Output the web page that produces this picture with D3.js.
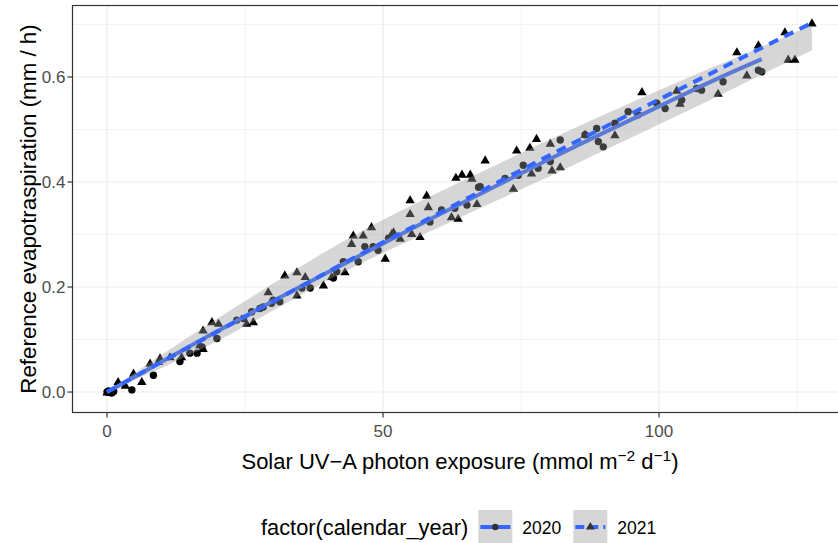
<!DOCTYPE html>
<html>
<head>
<meta charset="utf-8">
<script src="https://cdn.jsdelivr.net/npm/d3@7"></script>
<style>
  html, body { margin: 0; padding: 0; background: #ffffff; }
  svg { display: block; font-family: "Liberation Sans", Arial, Helvetica, sans-serif; }
</style>
</head>
<body>
<svg id="chart" width="838" height="543"></svg>
<script>
// Observations for 2020: UV-A exposure (mmol m-2 d-1) and reference ET (mm / h)
const uva2020 = [0.0, 0.3, 0.8, 1.2, 4.5, 8.4, 13.2, 15.0, 16.3, 17.2, 19.9, 23.5, 24.7, 26.2, 27.7, 28.3,
  29.8, 30.1, 31.3, 35.3, 36.8, 41.0, 41.6, 42.8, 45.5, 46.7, 48.2, 49.1, 51.0, 58.5, 60.6, 63.0,
  65.2, 67.3, 67.6, 72.1, 74.5, 75.4, 78.1, 80.3, 82.1, 86.6, 88.7, 89.0, 89.9, 92.0, 94.4, 96.2,
  99.6, 101.1, 104.1, 106.8, 107.7, 111.6, 118.0, 118.6];
const et2020 = [0.000, 0.002, -0.002, 0.001, 0.004, 0.032, 0.058, 0.074, 0.074, 0.086, 0.102, 0.137, 0.140, 0.153, 0.159, 0.162,
  0.169, 0.175, 0.172, 0.198, 0.198, 0.217, 0.229, 0.248, 0.248, 0.277, 0.277, 0.270, 0.293, 0.324, 0.347, 0.350,
  0.356, 0.390, 0.391, 0.407, 0.413, 0.432, 0.426, 0.439, 0.480, 0.490, 0.502, 0.477, 0.467, 0.512, 0.534, 0.528,
  0.550, 0.540, 0.556, 0.578, 0.575, 0.591, 0.613, 0.610];

// Observations for 2021
const uva2021 = [0.0, 0.6, 2.0, 3.3, 4.8, 6.3, 7.8, 9.3, 9.6, 11.4, 13.5, 16.8, 17.4, 17.4, 19.0, 20.2,
  25.3, 26.5, 29.2, 32.2, 34.4, 35.9, 34.4, 39.2, 40.7, 43.1, 44.3, 44.6, 46.4, 47.9, 50.4, 51.6,
  51.9, 53.1, 54.9, 54.9, 55.2, 56.7, 57.9, 58.2, 62.4, 63.6, 63.2, 64.3, 65.8, 66.1, 67.0, 68.5,
  73.6, 76.9, 80.6, 82.1, 74.2, 76.6, 77.8, 80.3, 86.6, 92.0, 96.9, 103.2, 103.8, 110.7, 114.1, 115.9,
  118.0, 122.8, 123.4, 124.6, 127.7];
const et2021 = [0.000, -0.001, 0.020, 0.013, 0.036, 0.020, 0.055, 0.058, 0.065, 0.067, 0.067, 0.090, 0.083, 0.118, 0.134, 0.131,
  0.131, 0.134, 0.191, 0.223, 0.229, 0.220, 0.185, 0.204, 0.220, 0.229, 0.283, 0.299, 0.299, 0.315, 0.255, 0.302,
  0.305, 0.293, 0.366, 0.340, 0.302, 0.296, 0.375, 0.353, 0.334, 0.331, 0.409, 0.415, 0.415, 0.407, 0.359, 0.442,
  0.388, 0.417, 0.423, 0.429, 0.461, 0.466, 0.483, 0.474, 0.491, 0.490, 0.572, 0.575, 0.550, 0.569, 0.648, 0.604,
  0.661, 0.686, 0.634, 0.634, 0.703];

// Smoothed fits per year
const fitUva2020 = [0, 10, 20, 30, 40, 50, 60, 70, 80, 90, 100, 110, 118.6];
const fitEt2020 = [0, 0.058, 0.116, 0.173, 0.228, 0.283, 0.337, 0.390, 0.443, 0.494, 0.544, 0.594, 0.634];
const fitUva2021 = [0, 10, 20, 30, 40, 50, 60, 70, 80, 90, 100, 110, 120, 127.7];
const fitEt2021 = [0, 0.058, 0.115, 0.172, 0.229, 0.285, 0.340, 0.395, 0.450, 0.504, 0.557, 0.610, 0.663, 0.703];

// Shaded band around the fits
const bandUva = [0, 10, 20, 30, 40, 50, 60, 70, 80, 90, 100, 110, 120, 127.7];
const bandLow = [0, 0.046, 0.097, 0.155, 0.213, 0.265, 0.313, 0.362, 0.410, 0.460, 0.510, 0.560, 0.612, 0.651];
const bandHigh = [0, 0.072, 0.140, 0.206, 0.270, 0.328, 0.380, 0.430, 0.480, 0.528, 0.575, 0.620, 0.664, 0.699];

// Axis ticks
const xMajor = [0, 50, 100];
const xMinor = [25, 75, 125];
const yMajor = [0, 0.2, 0.4, 0.6];
const yMinor = [0.1, 0.3, 0.5, 0.7];
const yearLabels = ["2020", "2021"];

const svg = d3.select("#chart");
const W = 838, H = 543;
const panel = { left: 72.5, right: 847, top: 5.5, bottom: 412.5 };

const x = d3.scaleLinear().domain([-6.385, 134.085]).range([71.8, 847.2]);
const y = d3.scaleLinear().domain([-0.039, 0.7362]).range([panel.bottom, panel.top]);

svg.append("rect").attr("width", W).attr("height", H).attr("fill", "#ffffff");

svg.append("defs").append("clipPath").attr("id", "panelClip")
  .append("rect")
  .attr("x", panel.left).attr("y", panel.top)
  .attr("width", panel.right - panel.left).attr("height", panel.bottom - panel.top);

const plot = svg.append("g").attr("clip-path", "url(#panelClip)");

// grid
plot.selectAll("line.xminor").data(xMinor).join("line")
  .attr("x1", d => x(d)).attr("x2", d => x(d))
  .attr("y1", panel.top).attr("y2", panel.bottom)
  .attr("stroke", "#EBEBEB").attr("stroke-width", 0.6);
plot.selectAll("line.yminor").data(yMinor).join("line")
  .attr("y1", d => y(d)).attr("y2", d => y(d))
  .attr("x1", panel.left).attr("x2", panel.right)
  .attr("stroke", "#EBEBEB").attr("stroke-width", 0.6);
plot.selectAll("line.xmajor").data(xMajor).join("line")
  .attr("x1", d => x(d)).attr("x2", d => x(d))
  .attr("y1", panel.top).attr("y2", panel.bottom)
  .attr("stroke", "#EBEBEB").attr("stroke-width", 1.2);
plot.selectAll("line.ymajor").data(yMajor).join("line")
  .attr("y1", d => y(d)).attr("y2", d => y(d))
  .attr("x1", panel.left).attr("x2", panel.right)
  .attr("stroke", "#EBEBEB").attr("stroke-width", 1.2);

// points
const pts2020 = uva2020.map((u, i) => [u, et2020[i]]);
const pts2021 = uva2021.map((u, i) => [u, et2021[i]]);
const triSym = d3.symbol().type(d3.symbolTriangle).size(38);

plot.append("g").selectAll("circle").data(pts2020).join("circle")
  .attr("cx", d => x(d[0])).attr("cy", d => y(d[1])).attr("r", 3.7)
  .attr("fill", "#000000");
plot.append("g").selectAll("path").data(pts2021).join("path")
  .attr("d", triSym)
  .attr("transform", d => `translate(${x(d[0])},${y(d[1]) + 0.8})`)
  .attr("fill", "#000000");

const blue = "#3366FF";
const lineGen = d3.line().x(d => x(d[0])).y(d => y(d[1])).curve(d3.curveMonotoneX);

// 2020 fit
plot.append("path")
  .datum(fitUva2020.map((u, i) => [u, fitEt2020[i]]))
  .attr("d", lineGen)
  .attr("fill", "none").attr("stroke", blue).attr("stroke-width", 4);

// band
const area = d3.area().x(d => x(d[0])).y0(d => y(d[1])).y1(d => y(d[2])).curve(d3.curveMonotoneX);
plot.append("path")
  .datum(bandUva.map((u, i) => [u, bandLow[i], bandHigh[i]]))
  .attr("d", area)
  .attr("fill", "#999999").attr("fill-opacity", 0.4);

// 2021 fit
plot.append("path")
  .datum(fitUva2021.map((u, i) => [u, fitEt2021[i]]))
  .attr("d", lineGen)
  .attr("fill", "none").attr("stroke", blue).attr("stroke-width", 4)
  .attr("stroke-dasharray", "10,7");

// panel border
svg.append("rect")
  .attr("x", panel.left).attr("y", panel.top)
  .attr("width", panel.right - panel.left).attr("height", panel.bottom - panel.top)
  .attr("fill", "none").attr("stroke", "#333333").attr("stroke-width", 1.2);

// axes ticks and labels
const xAxis = svg.append("g");
xAxis.selectAll("line").data(xMajor).join("line")
  .attr("x1", d => x(d)).attr("x2", d => x(d))
  .attr("y1", panel.bottom).attr("y2", panel.bottom + 5)
  .attr("stroke", "#333333").attr("stroke-width", 1.2);
xAxis.selectAll("text").data(xMajor).join("text")
  .attr("x", d => x(d)).attr("y", panel.bottom + 24)
  .attr("text-anchor", "middle").attr("font-size", 17).attr("fill", "#4D4D4D")
  .text(d => d3.format("d")(d));

const yAxis = svg.append("g");
yAxis.selectAll("line").data(yMajor).join("line")
  .attr("x1", panel.left - 5).attr("x2", panel.left)
  .attr("y1", d => y(d)).attr("y2", d => y(d))
  .attr("stroke", "#333333").attr("stroke-width", 1.2);
yAxis.selectAll("text").data(yMajor).join("text")
  .attr("x", panel.left - 7).attr("y", d => y(d) + 6)
  .attr("text-anchor", "end").attr("font-size", 17).attr("fill", "#4D4D4D")
  .text(d => d3.format(".1f")(d));

// axis titles
const xTitle = svg.append("text")
  .attr("x", 460).attr("y", 469)
  .attr("text-anchor", "middle").attr("font-size", 22).attr("fill", "#000000");
xTitle.append("tspan").text("Solar UV\u2212A photon exposure (mmol m");
xTitle.append("tspan").attr("dy", -8).attr("font-size", 15.5).text("\u22122");
xTitle.append("tspan").attr("dy", 8).text(" d");
xTitle.append("tspan").attr("dy", -8).attr("font-size", 15.5).text("\u22121");
xTitle.append("tspan").attr("dy", 8).text(")");

svg.append("text")
  .attr("transform", `translate(36,${(panel.top + panel.bottom) / 2}) rotate(-90)`)
  .attr("text-anchor", "middle").attr("font-size", 22.3).attr("fill", "#000000")
  .text("Reference evapotraspiration (mm / h)");

// legend
const legend = svg.append("g");
legend.append("text")
  .attr("x", 261).attr("y", 535).attr("font-size", 21.8).attr("fill", "#000000")
  .text("factor(calendar_year)");

const keyX = [478.3, 573.3];
yearLabels.forEach((lab, i) => {
  const kx = keyX[i];
  legend.append("rect")
    .attr("x", kx).attr("y", 510).attr("width", 34).attr("height", 34)
    .attr("fill", "#999999").attr("fill-opacity", 0.4);
  legend.append("line")
    .attr("x1", kx + 2).attr("x2", kx + 32).attr("y1", 527).attr("y2", 527)
    .attr("stroke", blue).attr("stroke-width", 4)
    .attr("stroke-dasharray", i === 0 ? null : "9,5");
  if (i === 0) {
    legend.append("circle").attr("cx", kx + 17).attr("cy", 527).attr("r", 3.2).attr("fill", "#333333");
  } else {
    legend.append("path").attr("d", d3.symbol().type(d3.symbolTriangle).size(34))
      .attr("transform", `translate(${kx + 17},${527})`).attr("fill", "#333333");
  }
  legend.append("text")
    .attr("x", kx + 44).attr("y", 533.5).attr("font-size", 17.5).attr("fill", "#000000")
    .text(lab);
});
</script>
</body>
</html>
